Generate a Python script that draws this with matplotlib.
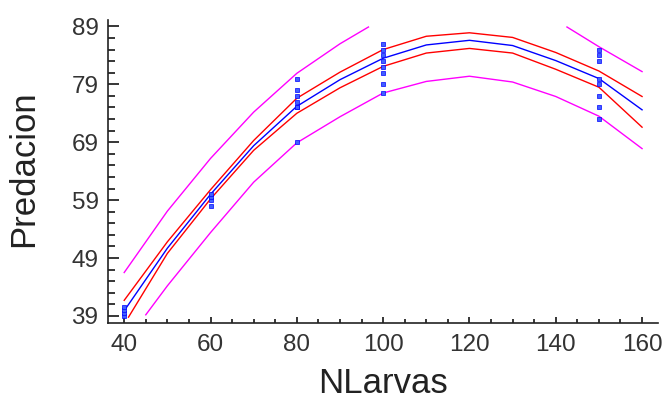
import numpy as np
import matplotlib.pyplot as plt
from matplotlib.ticker import MultipleLocator

plt.rcParams['font.family'] = ['Liberation Sans', 'DejaVu Sans']

# observed data (NLarvas, Predacion)
obs_x = [40, 40, 40, 40,
         60, 60, 60, 60,
         80, 80, 80, 80, 80, 80, 80,
         100, 100, 100, 100, 100, 100, 100, 100,
         150, 150, 150, 150, 150, 150, 150, 150]
obs_y = [39, 39.5, 40, 40.5,
         58, 59, 59.5, 60,
         80, 78, 77, 76, 75, 75, 69,
         86, 85, 84, 83, 82, 81, 79, 77.5,
         85, 84, 83, 80, 79, 77, 75, 73]

# fitted curve and bands
grid_x = [40, 50, 60, 70, 80, 90, 100, 110, 120, 130, 140, 150, 160]
fit_y = [39.9, 50.7, 60.0, 68.4, 75.2, 79.8, 83.5, 85.8, 86.6, 85.7, 83.1, 80.0, 74.6]
conf_hi = [41.7, 51.8, 60.8, 69.3, 76.6, 81.1, 85.0, 87.3, 87.9, 87.1, 84.5, 81.3, 76.9]
conf_lo_x = [41, 50, 60, 70, 80, 90, 100, 110, 120, 130, 140, 150, 160]
conf_lo = [38.8, 49.8, 59.2, 67.6, 74.0, 78.4, 82.1, 84.4, 85.2, 84.4, 81.6, 78.5, 71.6]

pred_hi_x = [40, 50, 60, 70, 80, 90, 96.6, np.nan, 142.6, 150, 160]
pred_hi = [46.5, 57.1, 66.2, 74.2, 80.9, 86.0, 88.9, np.nan, 88.9, 85.5, 81.2]
pred_lo_x = [45, 50, 60, 70, 80, 90, 100, 110, 120, 130, 140, 150, 160]
pred_lo = [39.2, 44.2, 53.4, 62.1, 68.9, 73.4, 77.5, 79.5, 80.4, 79.4, 76.9, 73.5, 67.9]

fig = plt.figure(figsize=(6.64, 4.01), dpi=100)
ax = fig.add_axes([0.163, 0.194, 0.828, 0.756])

ax.plot(pred_hi_x, pred_hi, color='#ff00ff', lw=1.0)
ax.plot(pred_lo_x, pred_lo, color='#ff00ff', lw=1.0)
ax.plot(grid_x, conf_hi, color='#ff0000', lw=1.0)
ax.plot(conf_lo_x, conf_lo, color='#ff0000', lw=1.0)
ax.plot(grid_x, fit_y, color='#0000ff', lw=1.0)
ax.plot(obs_x, obs_y, 's', color='#0000ff', ms=2.3, mew=0.5, mfc='#4060ff')

ax.set_xlim(36.3, 163.7)
ax.set_ylim(37.75, 90.1)
ax.set_xticks([40, 60, 80, 100, 120, 140, 160])
ax.set_yticks([39, 49, 59, 69, 79, 89])
ax.xaxis.set_minor_locator(MultipleLocator(5))
ax.set_yticks(np.arange(39, 90, 2), minor=True)

for s in ['top', 'right']:
    ax.spines[s].set_visible(False)
for s in ['left', 'bottom']:
    ax.spines[s].set_linewidth(1.2)
    ax.spines[s].set_color('#222222')

ax.tick_params(axis='y', which='major', direction='in', length=8, width=1.1, labelsize=17.5, pad=7)
ax.tick_params(axis='y', which='minor', direction='in', length=5, width=1.1)
ax.tick_params(axis='x', which='major', direction='in', length=4.5, width=1.1, labelsize=17.5, pad=8)
ax.tick_params(axis='x', which='minor', direction='in', length=3, width=1.1)
for lab in ax.get_xticklabels() + ax.get_yticklabels():
    lab.set_color('#333333')

ax.set_xlabel('NLarvas', fontsize=25, color='#222222')
ax.set_ylabel('Predacion', fontsize=25, color='#222222')
ax.xaxis.set_label_coords(0.5, -0.145)
ax.yaxis.set_label_coords(-0.124, 0.51)

fig.savefig('out.png', dpi=100)
